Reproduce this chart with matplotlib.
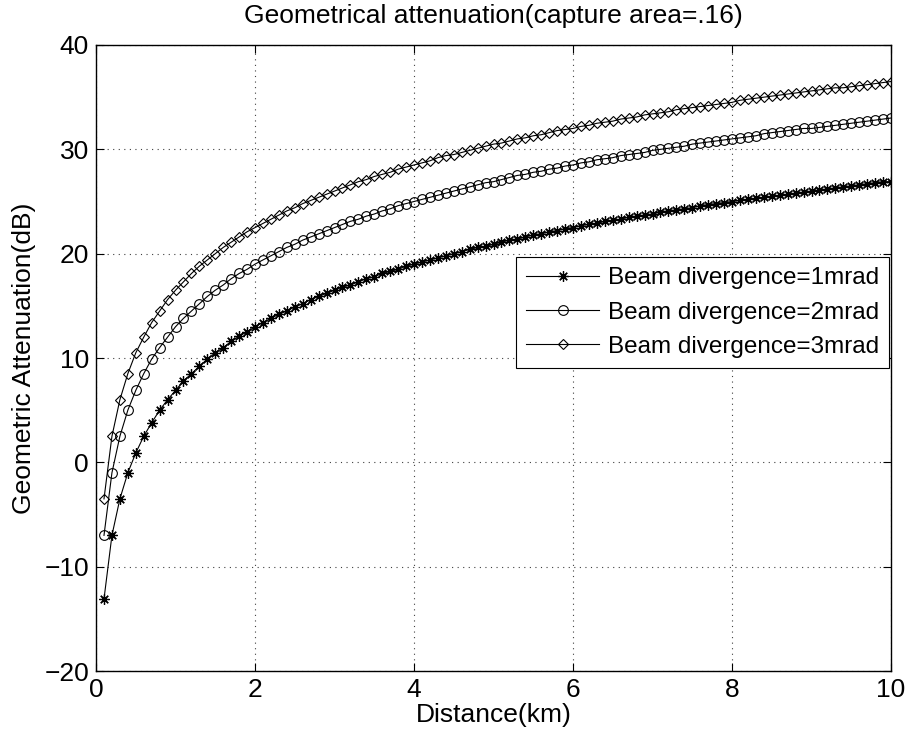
import matplotlib
matplotlib.use("Agg")
import matplotlib.pyplot as plt

plt.rcParams['font.family'] = ['Liberation Sans', 'DejaVu Sans']

# distance in km, one point every 0.1 km
distance_km = [
    0.1, 0.2, 0.3, 0.4, 0.5, 0.6, 0.7, 0.8, 0.9, 1.0,
    1.1, 1.2, 1.3, 1.4, 1.5, 1.6, 1.7, 1.8, 1.9, 2.0,
    2.1, 2.2, 2.3, 2.4, 2.5, 2.6, 2.7, 2.8, 2.9, 3.0,
    3.1, 3.2, 3.3, 3.4, 3.5, 3.6, 3.7, 3.8, 3.9, 4.0,
    4.1, 4.2, 4.3, 4.4, 4.5, 4.6, 4.7, 4.8, 4.9, 5.0,
    5.1, 5.2, 5.3, 5.4, 5.5, 5.6, 5.7, 5.8, 5.9, 6.0,
    6.1, 6.2, 6.3, 6.4, 6.5, 6.6, 6.7, 6.8, 6.9, 7.0,
    7.1, 7.2, 7.3, 7.4, 7.5, 7.6, 7.7, 7.8, 7.9, 8.0,
    8.1, 8.2, 8.3, 8.4, 8.5, 8.6, 8.7, 8.8, 8.9, 9.0,
    9.1, 9.2, 9.3, 9.4, 9.5, 9.6, 9.7, 9.8, 9.9, 10.0,
]

# geometric attenuation (dB)
att_1mrad = [
    -13.1, -7.0, -3.5, -1.0, 0.9, 2.5, 3.8, 5.0, 6.0, 6.9,
    7.8, 8.5, 9.2, 9.9, 10.5, 11.0, 11.6, 12.1, 12.5, 13.0,
    13.4, 13.8, 14.2, 14.5, 14.9, 15.2, 15.6, 15.9, 16.2, 16.5,
    16.8, 17.0, 17.3, 17.6, 17.8, 18.1, 18.3, 18.5, 18.8, 19.0,
    19.2, 19.4, 19.6, 19.8, 20.0, 20.2, 20.4, 20.6, 20.7, 20.9,
    21.1, 21.3, 21.4, 21.6, 21.8, 21.9, 22.1, 22.2, 22.4, 22.5,
    22.7, 22.8, 22.9, 23.1, 23.2, 23.3, 23.5, 23.6, 23.7, 23.8,
    24.0, 24.1, 24.2, 24.3, 24.4, 24.6, 24.7, 24.8, 24.9, 25.0,
    25.1, 25.2, 25.3, 25.4, 25.5, 25.6, 25.7, 25.8, 25.9, 26.0,
    26.1, 26.2, 26.3, 26.4, 26.5, 26.6, 26.7, 26.8, 26.9, 26.9,
]
att_2mrad = [
    -7.0, -1.0, 2.5, 5.0, 6.9, 8.5, 9.9, 11.0, 12.0, 13.0,
    13.8, 14.5, 15.2, 15.9, 16.5, 17.0, 17.6, 18.1, 18.5, 19.0,
    19.4, 19.8, 20.2, 20.6, 20.9, 21.3, 21.6, 21.9, 22.2, 22.5,
    22.8, 23.1, 23.3, 23.6, 23.8, 24.1, 24.3, 24.6, 24.8, 25.0,
    25.2, 25.4, 25.6, 25.8, 26.0, 26.2, 26.4, 26.6, 26.8, 26.9,
    27.1, 27.3, 27.5, 27.6, 27.8, 27.9, 28.1, 28.2, 28.4, 28.5,
    28.7, 28.8, 29.0, 29.1, 29.2, 29.4, 29.5, 29.6, 29.7, 29.9,
    30.0, 30.1, 30.2, 30.3, 30.5, 30.6, 30.7, 30.8, 30.9, 31.0,
    31.1, 31.2, 31.3, 31.5, 31.6, 31.7, 31.8, 31.9, 32.0, 32.0,
    32.1, 32.2, 32.3, 32.4, 32.5, 32.6, 32.7, 32.8, 32.9, 33.0,
]
att_3mrad = [
    -3.5, 2.5, 6.0, 8.5, 10.5, 12.0, 13.4, 14.5, 15.6, 16.5,
    17.3, 18.1, 18.8, 19.4, 20.0, 20.6, 21.1, 21.6, 22.1, 22.5,
    22.9, 23.3, 23.7, 24.1, 24.4, 24.8, 25.1, 25.4, 25.7, 26.0,
    26.3, 26.6, 26.9, 27.1, 27.4, 27.6, 27.8, 28.1, 28.3, 28.5,
    28.7, 28.9, 29.2, 29.4, 29.5, 29.7, 29.9, 30.1, 30.3, 30.5,
    30.6, 30.8, 31.0, 31.1, 31.3, 31.4, 31.6, 31.8, 31.9, 32.0,
    32.2, 32.3, 32.5, 32.6, 32.7, 32.9, 33.0, 33.1, 33.3, 33.4,
    33.5, 33.6, 33.8, 33.9, 34.0, 34.1, 34.2, 34.3, 34.4, 34.5,
    34.7, 34.8, 34.9, 35.0, 35.1, 35.2, 35.3, 35.4, 35.5, 35.6,
    35.7, 35.8, 35.9, 35.9, 36.0, 36.1, 36.2, 36.3, 36.4, 36.5,
]

labels = ['Beam divergence=1mrad', 'Beam divergence=2mrad', 'Beam divergence=3mrad']

fig = plt.figure(figsize=(9.06, 7.4), dpi=100)
ax = fig.add_axes([0.106, 0.0932, 0.8775, 0.846])

ax.plot(distance_km, att_1mrad, color='k', lw=0.8, marker=(8, 2, 0),
        markersize=7.5, markeredgewidth=0.9, label=labels[0])
ax.plot(distance_km, att_2mrad, color='k', lw=0.8, marker='o',
        markersize=7, markerfacecolor='none', markeredgewidth=0.8, label=labels[1])
ax.plot(distance_km, att_3mrad, color='k', lw=0.8, marker='D',
        markersize=5.5, markerfacecolor='none', markeredgewidth=0.8, label=labels[2])

ax.set_xlim(0, 10)
ax.set_ylim(-20, 40)
ax.set_xticks([0, 2, 4, 6, 8, 10])
ax.set_yticks([-20, -10, 0, 10, 20, 30, 40])
ax.grid(True, color='0.25', linestyle=(0, (1, 4)), linewidth=0.8)
ax.tick_params(direction='in', top=True, right=True, length=5.5, width=0.8,
               labelsize=19, pad=5)
for s in ax.spines.values():
    s.set_linewidth(1.0)

ax.set_title('Geometrical attenuation(capture area=.16)', fontsize=19, pad=16)
ax.set_xlabel('Distance(km)', fontsize=19, labelpad=1)
ax.set_ylabel('Geometric Attenuation(dB)', fontsize=19, labelpad=6)

leg = ax.legend(loc='upper right', bbox_to_anchor=(0.9975, 0.661), fontsize=17.5,
                handlelength=3.0, handletextpad=0.35, labelspacing=0.5,
                borderaxespad=0, borderpad=0.42, fancybox=False, framealpha=1,
                edgecolor='k')
leg.get_frame().set_linewidth(0.8)

fig.savefig('out.png', dpi=100)
